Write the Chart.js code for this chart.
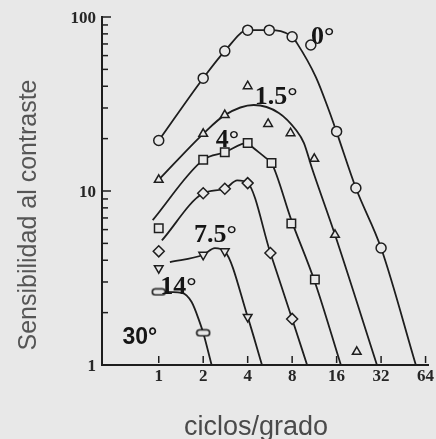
<!DOCTYPE html>
<html>
<head>
<meta charset="utf-8">
<script src="https://cdn.jsdelivr.net/npm/chart.js@4/dist/chart.umd.min.js"></script>
<style>
  html, body { margin: 0; padding: 0; background: #e8e8e8; }
  canvas { display: block; }
</style>
</head>
<body>
<canvas id="csf" width="436" height="439"></canvas>
<script>
// Contrast sensitivity vs spatial frequency at several retinal eccentricities.
// Measured points (markers) and the smooth fitted curve for each eccentricity.

// 0°  (circles)
const ecc0Freq = [1, 2, 2.8, 4, 5.6, 8, 10.7, 16, 21.6, 32];
const ecc0Sens = [19.5, 44.5, 63.7, 84, 84, 77, 69, 22, 10.4, 4.7];
const ecc0FitFreq = [1, 2, 2.8, 4, 5.6, 8, 8.6, 11.6, 14.2, 16, 21.6, 32, 55];
const ecc0FitSens = [19.5, 44.5, 63.7, 84, 84, 77, 71, 45, 29, 21.8, 10.4, 4.7, 1];

// 1.5°  (triangles)
const ecc15Freq = [1, 2, 2.8, 4, 5.5, 7.8, 11.3, 15.6, 21.9];
const ecc15Sens = [11.6, 21.3, 27.3, 40, 24.3, 21.5, 15.3, 5.6, 1.19];
const ecc15FitFreq = [1, 2, 2.8, 4.4, 6.5, 8.5, 9.6, 10.9, 15.6, 30];
const ecc15FitSens = [11.6, 21.3, 27.3, 31.2, 28.1, 22.4, 18.9, 13.5, 5.6, 1];

// 4°  (squares)
const ecc4Freq = [1, 2, 2.8, 4, 5.8, 7.9, 11.4];
const ecc4Sens = [6.1, 15.1, 16.7, 18.9, 14.5, 6.5, 3.1];
const ecc4FitFreq = [0.91, 2, 2.8, 4, 4.3, 5.3, 5.8, 7.9, 11.4, 17.1];
const ecc4FitSens = [6.8, 15.1, 16.7, 18.9, 17.9, 15.5, 14.5, 6.8, 3.0, 1];

// unlabelled curve  (diamonds)
const eccDFreq = [1, 2, 2.8, 4, 5.7, 8];
const eccDSens = [4.5, 9.7, 10.3, 11.1, 4.4, 1.84];
const eccDFitFreq = [1.05, 2, 2.8, 3.4, 4, 5.7, 8, 10.1];
const eccDFitSens = [5.2, 9.7, 10.3, 11.5, 11.1, 4.4, 1.84, 1];

// 7.5°  (inverted triangles)
const ecc75Freq = [1, 2, 2.8, 4];
const ecc75Sens = [3.6, 4.3, 4.5, 1.89];
const ecc75FitFreq = [1.19, 2, 2.4, 2.8, 4, 5.0];
const ecc75FitSens = [3.9, 4.3, 4.7, 4.5, 1.89, 1];

// 14°  (flat bars)
const ecc14Freq = [1, 2];
const ecc14Sens = [2.63, 1.53];
const ecc14FitFreq = [1, 1.43, 1.67, 1.89, 2, 2.28];
const ecc14FitSens = [2.63, 2.6, 2.3, 1.77, 1.53, 1];

// curve labels, placed in data coordinates
const labelText = ['0°', '1.5°', '4°', '7.5°', '14°', '30°'];
const labelFreq = [12.9, 6.24, 2.92, 2.42, 1.36, 0.745];
const labelSens = [76.8, 34.7, 19.6, 5.59, 2.81, 1.43];

// axis ticks
const xTickValues = [1, 2, 4, 8, 16, 32, 64];
const xTickLabels = ['1', '2', '4', '8', '16', '32', '64'];
const yTickValues = [1, 10, 100];
const yTickLabels = ['1', '10', '100'];
const yMinorTicks = [2, 3, 4, 5, 6, 7, 8, 9, 20, 30, 40, 50, 60, 70, 80, 90];

const xTitle = 'ciclos/grado';
const yTitle = 'Sensibilidad al contraste';

const INK = '#1e1e1e';
const PAPER = '#e8e8e8';

// elongated rounded bar used as the 14° marker
function barMarker() {
  const c = document.createElement('canvas');
  c.width = 16; c.height = 9;
  const g = c.getContext('2d');
  const x = 1.5, y = 1.5, w = 13, h = 6, r = 3;
  g.beginPath();
  g.moveTo(x + r, y);
  g.lineTo(x + w - r, y);
  g.arc(x + w - r, y + r, r, -Math.PI / 2, Math.PI / 2);
  g.lineTo(x + r, y + h);
  g.arc(x + r, y + r, r, Math.PI / 2, Math.PI * 1.5);
  g.closePath();
  g.fillStyle = PAPER; g.fill();
  g.strokeStyle = INK; g.lineWidth = 1.6; g.stroke();
  return c;
}

const toPts = (xs, ys) => xs.map((x, i) => ({ x, y: ys[i] }));

const series = [
  { fitF: ecc0FitFreq, fitS: ecc0FitSens, f: ecc0Freq, s: ecc0Sens, style: 'circle', radius: 5, rot: 0 },
  { fitF: ecc15FitFreq, fitS: ecc15FitSens, f: ecc15Freq, s: ecc15Sens, style: 'triangle', radius: 5, rot: 0 },
  { fitF: ecc4FitFreq, fitS: ecc4FitSens, f: ecc4Freq, s: ecc4Sens, style: 'rect', radius: 6, rot: 0 },
  { fitF: eccDFitFreq, fitS: eccDFitSens, f: eccDFreq, s: eccDSens, style: 'rectRot', radius: 5.5, rot: 0 },
  { fitF: ecc75FitFreq, fitS: ecc75FitSens, f: ecc75Freq, s: ecc75Sens, style: 'triangle', radius: 5, rot: 180 },
  { fitF: ecc14FitFreq, fitS: ecc14FitSens, f: ecc14Freq, s: ecc14Sens, style: barMarker(), radius: 6, rot: 0 }
];

const datasets = [];
series.forEach(sr => {
  datasets.push({
    data: toPts(sr.fitF, sr.fitS),
    showLine: true,
    borderColor: INK,
    borderWidth: 1.8,
    pointRadius: 0,
    cubicInterpolationMode: 'monotone',
    order: 2
  });
  datasets.push({
    data: toPts(sr.f, sr.s),
    showLine: false,
    pointStyle: sr.style,
    pointRadius: sr.radius,
    pointRotation: sr.rot,
    pointBorderColor: INK,
    pointBackgroundColor: PAPER,
    pointBorderWidth: 1.5,
    order: 1
  });
});

// inward tick marks, tick labels, curve labels and axis titles
const decorations = {
  id: 'decorations',
  afterDraw(chart) {
    const { ctx, scales: { x, y } } = chart;
    const x0 = x.left, y0 = y.bottom;
    ctx.save();
    ctx.strokeStyle = INK;
    ctx.lineWidth = 1.5;

    yTickValues.forEach(v => {
      const py = y.getPixelForValue(v);
      ctx.beginPath(); ctx.moveTo(x0, py); ctx.lineTo(x0 + 9, py); ctx.stroke();
    });
    yMinorTicks.forEach(v => {
      const py = y.getPixelForValue(v);
      ctx.beginPath(); ctx.moveTo(x0 + 1, py); ctx.lineTo(x0 + 6, py); ctx.stroke();
    });
    xTickValues.forEach(v => {
      const px = x.getPixelForValue(v);
      ctx.beginPath(); ctx.moveTo(px, y0 - 9); ctx.lineTo(px, y0 - 2); ctx.stroke();
    });

    ctx.fillStyle = '#262626';
    ctx.font = 'bold 17px "Liberation Serif", "DejaVu Serif", serif';
    ctx.textAlign = 'right';
    ctx.textBaseline = 'middle';
    yTickValues.forEach((v, i) => {
      ctx.fillText(yTickLabels[i], x0 - 6, y.getPixelForValue(v) + 2);
    });
    ctx.textAlign = 'center';
    xTickValues.forEach((v, i) => {
      ctx.fillText(xTickLabels[i], x.getPixelForValue(v), y0 + 12);
    });

    ctx.fillStyle = '#151515';
    labelText.forEach((t, i) => {
      ctx.font = t === '30°'
        ? 'bold 23px "Liberation Sans", Arial, sans-serif'
        : 'bold 26px "Liberation Serif", "DejaVu Serif", serif';
      ctx.fillText(t, x.getPixelForValue(labelFreq[i]), y.getPixelForValue(labelSens[i]));
    });

    ctx.fillStyle = '#4a4a4a';
    ctx.font = '27px "Liberation Sans", Arial, sans-serif';
    ctx.textBaseline = 'alphabetic';
    ctx.fillText(xTitle, 256, 435);

    ctx.fillStyle = '#555555';
    ctx.font = '25px "Liberation Sans", Arial, sans-serif';
    ctx.translate(36, 215);
    ctx.rotate(-Math.PI / 2);
    ctx.fillText(yTitle, 0, 0);
    ctx.restore();
  }
};

new Chart(document.getElementById('csf'), {
  type: 'scatter',
  data: { datasets },
  options: {
    responsive: false,
    animation: false,
    devicePixelRatio: 1,
    layout: { padding: { left: 102, top: 17, right: 6, bottom: 74 } },
    plugins: { legend: { display: false }, tooltip: { enabled: false } },
    scales: {
      x: {
        type: 'logarithmic', min: 0.413, max: 67, bounds: 'data',
        ticks: { display: false },
        grid: { display: false },
        border: { display: true, color: INK, width: 2 },
        afterFit: s => { s.height = 0; }
      },
      y: {
        type: 'logarithmic', min: 1, max: 100, bounds: 'data',
        ticks: { display: false },
        grid: { display: false },
        border: { display: true, color: INK, width: 2 },
        afterFit: s => { s.width = 0; }
      }
    }
  },
  plugins: [decorations]
});
</script>
</body>
</html>
